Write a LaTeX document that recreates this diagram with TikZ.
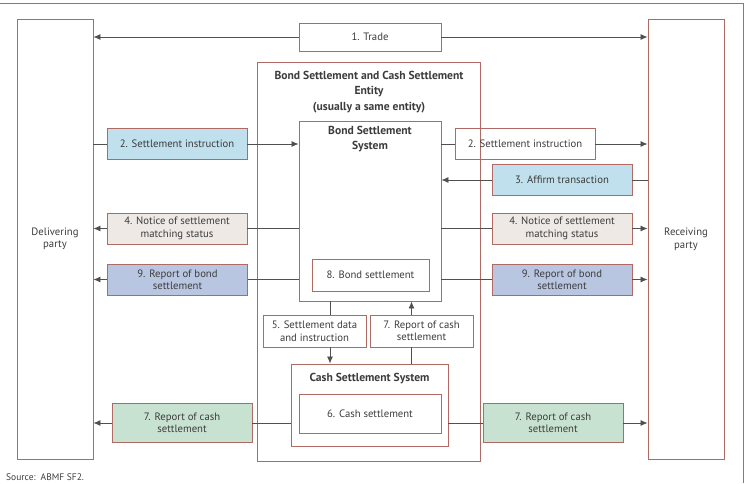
\documentclass[tikz,border=0pt]{standalone}
\usepackage{fontspec}
\setmainfont{PT Sans}
\usetikzlibrary{arrows.meta}
\definecolor{boxline}{HTML}{B06A64}
\definecolor{linkgrey}{HTML}{505050}
\definecolor{textgrey}{HTML}{3C3C3C}
\definecolor{skyfill}{HTML}{BFE0EC}
\definecolor{sandfill}{HTML}{EFE9E6}
\definecolor{lilacfill}{HTML}{B9C6E2}
\definecolor{mintfill}{HTML}{C8E2D1}
\begin{document}
\begin{tikzpicture}[x=1pt,y=-1pt,font=\fontsize{10.7}{12.5}\selectfont,text=textgrey,
  box/.style={draw=boxline,line width=0.9pt,inner sep=0pt,align=center},
  msg/.style={box,minimum width=140pt,minimum height=31pt},
  party/.style={box,minimum width=76pt,minimum height=440pt},
  title/.style={font=\fontsize{11.6}{15.5}\selectfont\bfseries,align=center,inner sep=0pt},
  link/.style={draw=linkgrey,line width=0.8pt},
  tip/.style={link,-{Latex[length=7pt,width=6pt]}}]
  \useasboundingbox (0,0) rectangle (747,483);
  \draw[boxline,line width=0.9pt] (0,3) -- (743,3) -- (743,483);

  \node[party] (deliver) at (55,239) {Delivering\\party};
  \node[party] (receive) at (686,239.5) {Receiving\\party};
  \node[box,minimum width=142pt,minimum height=28pt] (trade) at (370,37) {1. Trade};

  \node[box,minimum width=223pt,minimum height=399pt] (entity) at (368.5,261.5) {};
  \node[title] (entitytitle) at (369,92) {Bond Settlement and Cash Settlement\\Entity\\(usually a same entity)};
  \node[box,minimum width=142pt,minimum height=180pt] (bond) at (370,211) {};
  \node[title] (bondtitle) at (370,139) {Bond Settlement\\System};
  \node[box,minimum width=117pt,minimum height=32pt] (bondset) at (370.5,275) {8. Bond settlement};
  \node[box,minimum width=103pt,minimum height=32pt] (data) at (314.5,331) {5. Settlement data\\and instruction};
  \node[box,minimum width=103pt,minimum height=32pt] (cashmid) at (421.5,331) {7. Report of cash\\settlement};
  \node[box,minimum width=157pt,minimum height=82pt] (cash) at (369.5,405) {};
  \node[title] (cashtitle) at (369.5,379) {Cash Settlement System};
  \node[box,minimum width=142pt,minimum height=39pt] (cashset) at (370,413.5) {6. Cash settlement};

  \node[msg,fill=skyfill] (linstr) at (177,144) {2. Settlement instruction};
  \node[msg,fill=sandfill] (lnotice) at (177,228.5) {4. Notice of settlement\\matching status};
  \node[msg,fill=lilacfill] (lbond) at (177.5,279.5) {9. Report of bond\\settlement};
  \node[msg,fill=mintfill,minimum height=39pt] (lcash) at (182,423) {7. Report of cash\\settlement};
  \node[msg] (rinstr) at (525,144) {2. Settlement instruction};
  \node[msg,fill=skyfill] (raffirm) at (562,180) {3. Affirm transaction};
  \node[msg,fill=sandfill] (rnotice) at (562,228.5) {4. Notice of settlement\\matching status};
  \node[msg,fill=lilacfill] (rbond) at (562,279.5) {9. Report of bond\\settlement};
  \node[msg,fill=mintfill,minimum height=39pt] (rcash) at (553,423) {7. Report of cash\\settlement};

  \node[anchor=west,inner sep=0pt,font=\fontsize{9.5}{11}\selectfont] (source) at (6,477) {Source:\ \ ABMF SF2.};

  \draw[tip] (trade.west) -- (deliver.east |- trade);
  \draw[tip] (trade.east) -- (receive.west |- trade);

  \draw[link] (deliver.east |- linstr) -- (linstr.west);
  \draw[tip] (linstr.east) -- (bond.west |- linstr);
  \draw[link] (bond.west |- lnotice) -- (lnotice.east);
  \draw[tip] (lnotice.west) -- (deliver.east |- lnotice);
  \draw[link] (bond.west |- lbond) -- (lbond.east);
  \draw[tip] (lbond.west) -- (deliver.east |- lbond);
  \draw[link] (cash.west |- lcash) -- (lcash.east);
  \draw[tip] (lcash.west) -- (deliver.east |- lcash);

  \draw[link] (bond.east |- rinstr) -- (rinstr.west);
  \draw[tip] (rinstr.east) -- (receive.west |- rinstr);
  \draw[link] (receive.west |- raffirm) -- (raffirm.east);
  \draw[tip] (raffirm.west) -- (bond.east |- raffirm);
  \draw[link] (bond.east |- rnotice) -- (rnotice.west);
  \draw[tip] (rnotice.east) -- (receive.west |- rnotice);
  \draw[link] (bond.east |- rbond) -- (rbond.west);
  \draw[tip] (rbond.east) -- (receive.west |- rbond);
  \draw[link] (cash.east |- rcash) -- (rcash.west);
  \draw[tip] (rcash.east) -- (receive.west |- rcash);

  \draw[link] ([xshift=15.5pt]data.north |- bond.south) -- ([xshift=15.5pt]data.north);
  \draw[tip] ([xshift=15.5pt]data.south) -- ([xshift=15.5pt]data.south |- cash.north);
  \draw[link] ([xshift=-10pt]cashmid.south |- cash.north) -- ([xshift=-10pt]cashmid.south);
  \draw[tip] ([xshift=-10pt]cashmid.north) -- ([xshift=-10pt]cashmid.north |- bond.south);
\end{tikzpicture}
\end{document}
